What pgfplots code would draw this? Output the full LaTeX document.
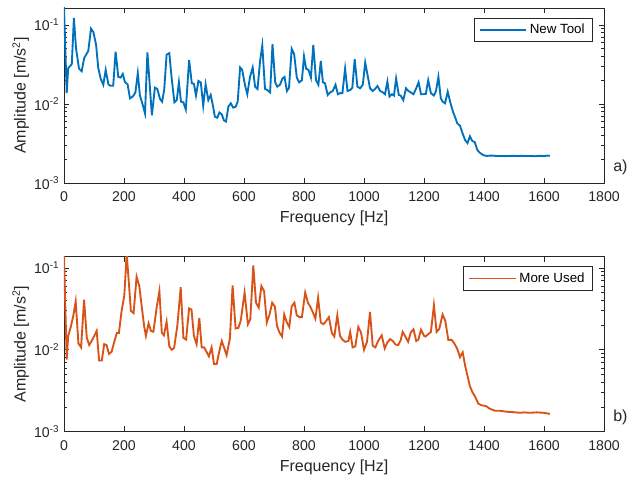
\documentclass[border=0pt]{standalone}
\usepackage{fontspec}
\setmainfont{Liberation Sans}
\usepackage{pgfplots}
\pgfplotsset{compat=1.18}
\definecolor{mblue}{rgb}{0,0.447,0.741}
\definecolor{morange}{rgb}{0.85,0.325,0.098}
\definecolor{axgray}{rgb}{0.15,0.15,0.15}
\pgfplotsset{
  every axis/.append style={
  scale only axis, width=405pt, height=131.25pt,
  xmin=0, xmax=1800, ymin=0.001,
  xtick={0,200,...,1800},
  ytick={0.001,0.01,0.1},
  yticklabels={10\textsuperscript{-3},10\textsuperscript{-2},10\textsuperscript{-1}},
  minor ytick={0.002,0.003,0.004,0.005,0.006,0.007,0.008,0.009,0.02,0.03,0.04,0.05,0.06,0.07,0.08,0.09},
  /pgf/number format/assume math mode=true,
  /pgf/number format/set thousands separator={},
  tick align=inside,
  major tick length=4pt, minor tick length=2.5pt,
  axis line style={axgray, line width=0.5pt},
  every tick/.style={axgray, line width=0.5pt},
  tick label style={font=\fontsize{10.6}{12}\selectfont, text=axgray},
  xticklabel style={yshift=-3pt},
  label style={font=\fontsize{12}{14}\selectfont, text=axgray},
  ylabel style={yshift=-3pt},
  xlabel={Frequency [Hz]},
  ylabel={Amplitude [m/s\textsuperscript{2}]},
  legend style={font=\fontsize{10}{11}\selectfont, draw=axgray, line width=0.5pt,
    at={(1,1)}, anchor=north east, xshift=-8.8pt, yshift=-7.2pt,
    inner xsep=3.5pt, inner ysep=2.5pt},
  legend cell align=left,
  },
  legend image code/.code={\draw[#1] (0pt,0pt) -- (35pt,0pt);},
}
\begin{document}
\begin{tikzpicture}
\useasboundingbox (-48pt,-223.5pt) rectangle (422.25pt,137.25pt);
\begin{semilogyaxis}[ymax=0.164, name=top]
\addplot[mblue, line width=1.4pt] coordinates {
(0,0.17) (9,0.0137) (14,0.0284) (26,0.032) (33,0.123) (40,0.051) (50,0.028) (59,0.026)
(67,0.038) (81,0.047) (90,0.09) (98,0.081) (107,0.056) (114,0.029) (122,0.021) (131,0.0175)
(139,0.027) (148,0.0177) (155,0.017) (164,0.017) (172,0.046) (181,0.022) (189,0.0216) (196,0.024)
(203,0.019) (212,0.0177) (220,0.0118) (229,0.0124) (238,0.014) (246,0.0245) (253,0.0128) (262,0.0099)
(270,0.0076) (278,0.045) (293,0.0072) (303,0.0161) (311,0.0155) (320,0.0116) (327,0.0107) (334,0.0151)
(342,0.042) (351,0.044) (359,0.021) (368,0.0105) (376,0.0112) (383,0.0188) (390,0.0107) (398,0.0105)
(406,0.0085) (417,0.036) (426,0.0183) (433,0.018) (440,0.0128) (448,0.0196) (456,0.0187) (464,0.0095)
(472,0.0177) (481,0.0112) (489,0.013) (496,0.0097) (503,0.0069) (511,0.0067) (518,0.0078) (526,0.0074)
(533,0.0062) (540,0.006) (548,0.0093) (556,0.0102) (564,0.009) (572,0.0092) (579,0.0107) (587,0.029)
(594,0.027) (603,0.0175) (611,0.0133) (620,0.022) (629,0.029) (637,0.0166) (645,0.0155) (654,0.036)
(661,0.055) (670,0.0155) (678,0.015) (687,0.014) (695,0.057) (704,0.0188) (711,0.0166) (720,0.0175)
(728,0.021) (735,0.022) (743,0.0146) (750,0.016) (759,0.050) (767,0.043) (776,0.0216) (784,0.0188)
(793,0.020) (800,0.040) (807,0.028) (815,0.027) (823,0.0216) (831,0.056) (840,0.020) (848,0.0175)
(856,0.035) (863,0.0188) (870,0.0183) (879,0.013) (887,0.014) (896,0.0146) (905,0.0175) (913,0.0133)
(920,0.0137) (928,0.0137) (937,0.028) (945,0.0146) (954,0.015) (961,0.016) (969,0.037) (978,0.0166)
(987,0.0158) (996,0.0175) (1004,0.0335) (1013,0.022) (1020,0.0158) (1029,0.0146) (1037,0.0155) (1045,0.0169)
(1054,0.0146) (1063,0.014) (1070,0.0133) (1078,0.0192) (1085,0.0124) (1093,0.0133) (1100,0.0128) (1107,0.021)
(1116,0.013) (1122,0.0128) (1131,0.0112) (1140,0.0158) (1148,0.0146) (1156,0.014) (1165,0.0133) (1174,0.0158)
(1182,0.0188) (1190,0.0133) (1198,0.0133) (1206,0.0134) (1214,0.020) (1223,0.0137) (1233,0.0128) (1240,0.0146)
(1248,0.022) (1256,0.0118) (1262,0.0107) (1270,0.0102) (1279,0.0143) (1287,0.0107) (1296,0.0081) (1303,0.0069)
(1311,0.0057) (1320,0.0053) (1329,0.0042) (1337,0.0035) (1345,0.0032) (1353,0.0039) (1361,0.0034) (1369,0.0033)
(1378,0.0026) (1387,0.0024) (1398,0.00225) (1409,0.0022) (1420,0.00222) (1430,0.00222) (1440,0.0022) (1450,0.0022)
(1460,0.0022) (1470,0.00219) (1480,0.0022) (1490,0.0022) (1500,0.00221) (1510,0.00219) (1520,0.0022) (1530,0.00221)
(1540,0.00219) (1550,0.0022) (1560,0.0022) (1570,0.00218) (1580,0.0022) (1590,0.00221) (1600,0.00219) (1610,0.00222)
(1620,0.00221)
};
\addlegendentry{New Tool}
\end{semilogyaxis}
\begin{semilogyaxis}[ymax=0.137, at={(0,-186.5pt)}, name=bot]
\addplot[morange, line width=1.4pt] coordinates {
(0,0.14) (9,0.0076) (14,0.0148) (22,0.0187) (31,0.026) (39,0.039) (48,0.012) (57,0.0107)
(67,0.041) (76,0.014) (84,0.0114) (92,0.0128) (101,0.0148) (109,0.017) (117,0.0074) (126,0.0074)
(134,0.0117) (142,0.0114) (150,0.0089) (159,0.0095) (167,0.0123) (176,0.016) (183,0.016) (192,0.0298)
(201,0.046) (209,0.15) (223,0.0298) (232,0.028) (242,0.078) (251,0.06) (259,0.034) (267,0.0196)
(273,0.0148) (282,0.021) (290,0.017) (298,0.0166) (309,0.033) (318,0.052) (326,0.0162) (333,0.015)
(342,0.022) (351,0.011) (359,0.010) (367,0.0105) (378,0.02) (389,0.058) (398,0.014) (407,0.0133)
(417,0.032) (425,0.031) (433,0.0148) (442,0.0117) (451,0.0245) (459,0.0107) (467,0.0107) (476,0.0093)
(483,0.0083) (492,0.0107) (500,0.0067) (509,0.0067) (518,0.0097) (526,0.0128) (534,0.0105) (542,0.0086)
(553,0.0137) (562,0.061) (572,0.0182) (581,0.0185) (589,0.0225) (602,0.05) (613,0.0205) (621,0.0236)
(631,0.107) (640,0.0376) (649,0.0327) (658,0.06) (667,0.052) (676,0.0215) (685,0.027) (694,0.0376)
(703,0.0336) (710,0.0196) (718,0.0163) (727,0.0145) (734,0.027) (743,0.0215) (751,0.019) (759,0.034)
(768,0.0376) (776,0.0263) (785,0.025) (793,0.025) (804,0.05) (813,0.0376) (821,0.0336) (829,0.029)
(838,0.024) (847,0.043) (856,0.0215) (865,0.0205) (874,0.0225) (883,0.025) (893,0.016) (901,0.0145)
(911,0.0263) (920,0.0148) (929,0.0132) (938,0.0125) (948,0.0128) (954,0.0165) (962,0.0107) (971,0.011)
(981,0.019) (990,0.0163) (1000,0.01) (1010,0.0125) (1020,0.029) (1029,0.0112) (1038,0.0107) (1047,0.0128)
(1059,0.015) (1069,0.0104) (1078,0.0123) (1087,0.0135) (1096,0.0128) (1105,0.0116) (1114,0.0114) (1122,0.013)
(1129,0.0165) (1138,0.0145) (1147,0.0125) (1156,0.0163) (1165,0.0178) (1174,0.0128) (1181,0.0132) (1190,0.0176)
(1200,0.0148) (1205,0.0145) (1214,0.0155) (1223,0.0165) (1233,0.035) (1242,0.0165) (1251,0.018) (1262,0.027)
(1271,0.0225) (1281,0.0132) (1292,0.0132) (1301,0.012) (1311,0.0102) (1320,0.0081) (1329,0.0093) (1337,0.0064)
(1345,0.0048) (1353,0.0036) (1362,0.003) (1370,0.0027) (1381,0.0022) (1392,0.0021) (1407,0.00205) (1420,0.0019)
(1437,0.0018) (1453,0.0018) (1476,0.00175) (1498,0.00173) (1520,0.0017) (1535,0.00172) (1553,0.0017) (1576,0.00172)
(1598,0.0017) (1620,0.00165)
};
\addlegendentry{More Used}
\end{semilogyaxis}
\node[anchor=west, font=\fontsize{12}{14}\selectfont, text=axgray, inner sep=0pt] at ([xshift=6.75pt, yshift=12pt]top.south east) {a)};
\node[anchor=west, font=\fontsize{12}{14}\selectfont, text=axgray, inner sep=0pt] at ([xshift=6.75pt, yshift=10.5pt]bot.south east) {b)};
\end{tikzpicture}
\end{document}
